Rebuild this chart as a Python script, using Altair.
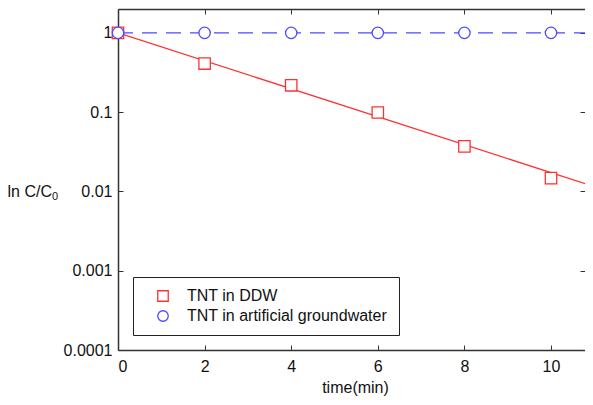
import altair as alt
import pandas as pd

# ---- data ----
time_min = [0, 2, 4, 6, 8, 10]
ddw = [1.0, 0.41, 0.218, 0.099, 0.037, 0.0147]
groundwater = [1.0, 1.0, 1.0, 1.0, 1.0, 1.0]

err_time = [10]
err_low = [0.0126]
err_high = [0.0168]

fit_time = [0, 11]
ddw_fit = [1.0, 0.0115]
gw_fit = [1.0, 1.0]

series_names = ["TNT in DDW", "TNT in artificial groundwater"]
series_colors = ["#ff3030", "#4a4aff"]
series_shapes = ["square", "circle"]

x_ticks = [0, 2, 4, 6, 8, 10]
y_ticks = [1, 0.1, 0.01, 0.001, 0.0001]

# ---- tables ----
pts = pd.DataFrame(
    {
        "time": time_min * 2,
        "value": ddw + groundwater,
        "series": [series_names[0]] * len(time_min) + [series_names[1]] * len(time_min),
    }
)
fit = pd.DataFrame(
    {
        "time": fit_time * 2,
        "value": ddw_fit + gw_fit,
        "series": [series_names[0]] * len(fit_time) + [series_names[1]] * len(fit_time),
    }
)
err = pd.DataFrame({"time": err_time, "low": err_low, "high": err_high})

FONT = "Liberation Sans"
TXT = "#111111"
AX = "#333333"

W, H = 467, 341
xscale = alt.Scale(domain=[0, 10.785], nice=False, zero=False)
yscale = alt.Scale(type="log", domain=[0.0001, 2], nice=False)

inward = {"expr": "-5"}

x_main = alt.Axis(
    values=x_ticks, title="time(min)", labelFontSize=16, titleFontSize=16,
    titleFontWeight="normal", labelColor=TXT, titleColor=TXT, domain=True,
    domainColor=AX, domainWidth=1.5,
    tickColor=AX, tickSize=inward, labelPadding=13, titlePadding=5, grid=False,
    labelFont=FONT, titleFont=FONT, titleX=237,
)
y_main = alt.Axis(
    values=y_ticks, format="~g", title="ln C/C", labelFontSize=16, titleFontSize=16,
    titleFontWeight="normal", labelColor=TXT, titleColor=TXT, domain=True,
    domainColor=AX, domainWidth=1.5,
    tickColor=AX, tickSize=inward, labelPadding=11, grid=False,
    titleAngle=0, titleAlign="left", titleBaseline="middle", titleX=-111, titleY=182,
    labelFont=FONT, titleFont=FONT,
)
x_top = alt.Axis(values=x_ticks, orient="top", labels=False, title=None, domain=True,
                 domainColor=AX, domainWidth=1.5,
                 tickColor=AX, tickSize=inward, grid=False)
y_right = alt.Axis(values=y_ticks, orient="right", labels=False, title=None, domain=False,
                   tickColor=AX, tickSize=inward, grid=False)

color = alt.Color(
    "series:N",
    scale=alt.Scale(domain=series_names, range=series_colors),
    legend=alt.Legend(
        title=None, orient="none", legendX=15, legendY=268, strokeColor="#222",
        padding=11, symbolOffset=11, labelFontSize=16, labelFont=FONT, labelColor=TXT,
        labelOffset=16, rowPadding=4, symbolSize=110, symbolStrokeWidth=1.3,
        symbolFillColor="white", fillColor="white", labelLimit=400,
    ),
)
shape = alt.Shape(
    "series:N", scale=alt.Scale(domain=series_names, range=series_shapes), legend=None
)

ddw_line = (
    alt.Chart(fit)
    .transform_filter(alt.datum.series == series_names[0])
    .mark_line(color=series_colors[0], strokeWidth=1.3, clip=True)
    .encode(
        x=alt.X("time:Q", scale=xscale, axis=x_top),
        y=alt.Y("value:Q", scale=yscale, axis=y_right),
    )
)
gw_line = (
    alt.Chart(fit)
    .transform_filter(alt.datum.series == series_names[1])
    .mark_line(color=series_colors[1], strokeWidth=1.3, strokeDash=[15, 9], clip=True)
    .encode(
        x=alt.X("time:Q", scale=xscale, axis=None),
        y=alt.Y("value:Q", scale=yscale, axis=None),
    )
)
errbar = (
    alt.Chart(err)
    .mark_errorbar(ticks=alt.MarkConfig(size=10, color=series_colors[0]), color=series_colors[0], thickness=1.2)
    .encode(
        x=alt.X("time:Q", scale=xscale, axis=None),
        y=alt.Y("low:Q", scale=yscale, axis=None, title=None),
        y2="high:Q",
    )
)
points = (
    alt.Chart(pts)
    .mark_point(filled=False, fill="white", fillOpacity=1, size=130, strokeWidth=1.3, opacity=1)
    .encode(
        x=alt.X("time:Q", scale=xscale, axis=x_main),
        y=alt.Y("value:Q", scale=yscale, axis=y_main),
        color=color,
        shape=shape,
        order=alt.Order("series:N"),
    )
)
# subscript "0" of the y-axis title
subscript = (
    alt.Chart(pd.DataFrame({"t": ["0"]}))
    .mark_text(font=FONT, fontSize=11, color=TXT, align="left", baseline="middle")
    .encode(x=alt.value(-66), y=alt.value(188), text="t:N")
)

chart = (
    alt.layer(ddw_line, gw_line, errbar, points, subscript)
    .resolve_axis(x="independent", y="independent")
    .properties(
        width=W,
        height=H,
        autosize=alt.AutoSizeParams(type="none"),
        padding={"left": 110, "top": 1, "right": 0, "bottom": 47},
        background="white",
    )
    .configure_view(stroke=None)
)

chart.save("out.html", embed_options={"renderer": "svg", "actions": False})
